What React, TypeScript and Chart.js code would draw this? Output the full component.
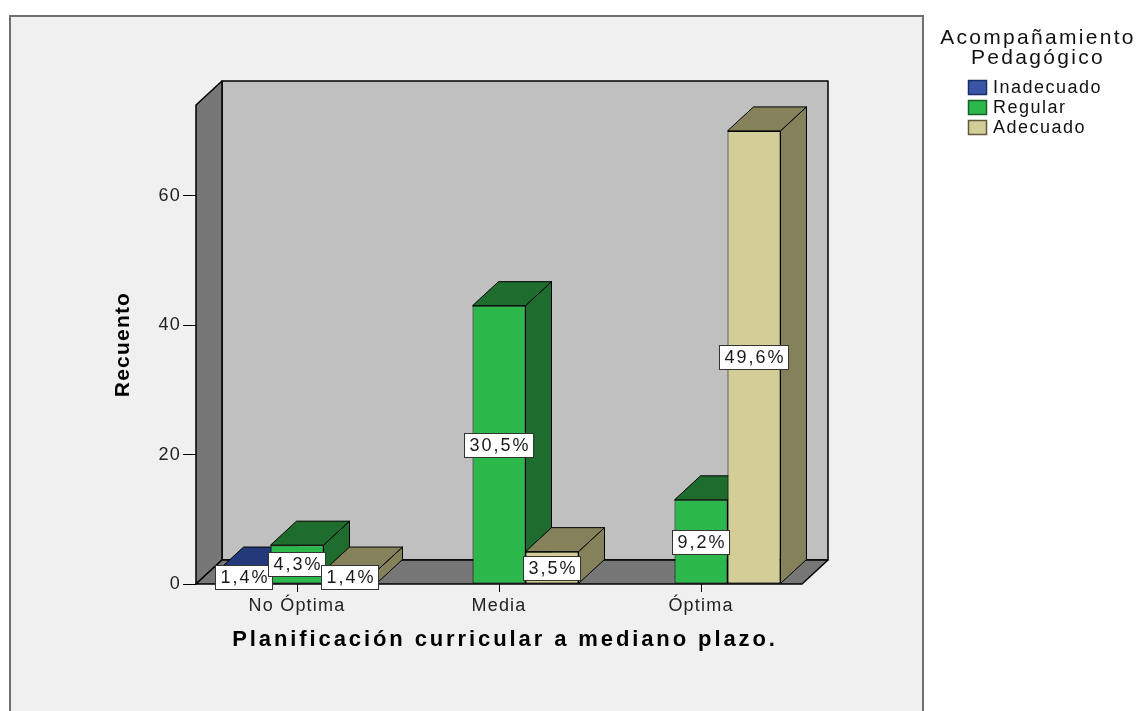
import React, { useEffect, useRef } from "react";
import { Chart, registerables } from "chart.js";

Chart.register(...registerables);

// ---------- data ----------
const categories = ["No Óptima", "Media", "Óptima"];
const seriesNames = ["Inadecuado", "Regular", "Adecuado"];
const inadecuado = [2, 0, 0];
const regular = [6, 43, 13];
const adecuado = [2, 5, 70];
const yTicks = [0, 20, 40, 60];
const yMax = 74;
const xTitle = "Planificación curricular a mediano plazo.";
const yTitle = "Recuento";
const legendTitle = ["Acompañamiento", "Pedagógico"];

// ---------- styles ----------
const frontColors = ["#3a55a5", "#2db84b", "#d3ce97"];
const darkColors = ["#24397a", "#1e6c2e", "#85825b"];
const legendBorders = ["#1c2c66", "#1a5f28", "#5e5b3e"];
const FONT = '"Liberation Sans", Arial, sans-serif';
const DX = 26;
const DY = 24;

const total = [...inadecuado, ...regular, ...adecuado].reduce((a, b) => a + b, 0);

function poly(ctx: CanvasRenderingContext2D, pts: number[][], fill: string) {
  ctx.beginPath();
  ctx.moveTo(pts[0][0], pts[0][1]);
  for (let i = 1; i < pts.length; i++) ctx.lineTo(pts[i][0], pts[i][1]);
  ctx.closePath();
  ctx.fillStyle = fill;
  ctx.fill();
  ctx.stroke();
}

const threeD = {
  id: "threeD",
  beforeDraw(chart: any) {
    const ctx: CanvasRenderingContext2D = chart.ctx;
    const { left, right, top, bottom } = chart.chartArea;
    ctx.save();
    ctx.fillStyle = "#ffffff";
    ctx.fillRect(0, 0, chart.width, chart.height);
    ctx.fillStyle = "#f0f0f0";
    ctx.fillRect(10, 16, 913, 720);
    ctx.strokeStyle = "#707070";
    ctx.lineWidth = 2;
    ctx.strokeRect(10, 16, 913, 720);
    ctx.strokeStyle = "#000";
    ctx.lineWidth = 1.5;
    ctx.lineJoin = "round";
    poly(ctx, [[left + DX, top - DY], [right + DX, top - DY], [right + DX, bottom - DY], [left + DX, bottom - DY]], "#c0c0c0");
    poly(ctx, [[left, top], [left + DX, top - DY], [left + DX, bottom - DY], [left, bottom]], "#777777");
    poly(ctx, [[left, bottom], [right, bottom], [right + DX, bottom - DY], [left + DX, bottom - DY]], "#777777");
    ctx.restore();
    (ctx as any).letterSpacing = "1.2px";
  },
  beforeDatasetsDraw(chart: any) {
    const ctx: CanvasRenderingContext2D = chart.ctx;
    const items: any[] = [];
    chart.data.datasets.forEach((ds: any, di: number) => {
      const meta = chart.getDatasetMeta(di);
      meta.data.forEach((el: any, i: number) => {
        if (ds.data[i] > 0) items.push({ el, di });
      });
    });
    items.sort((a, b) => a.el.x - b.el.x);
    ctx.save();
    ctx.strokeStyle = "#000";
    ctx.lineWidth = 1;
    ctx.lineJoin = "round";
    items.forEach(({ el, di }) => {
      const p = el.getProps(["x", "y", "base", "width"], true);
      const l = p.x - p.width / 2;
      const r = p.x + p.width / 2;
      const dark = darkColors[di];
      poly(ctx, [[r, p.y], [r + DX, p.y - DY], [r + DX, p.base - DY], [r, p.base]], dark);
      poly(ctx, [[l, p.y], [r, p.y], [r + DX, p.y - DY], [l + DX, p.y - DY]], dark);
    });
    ctx.restore();
  },
  afterDatasetsDraw(chart: any) {
    const ctx: CanvasRenderingContext2D = chart.ctx;
    ctx.save();
    (ctx as any).letterSpacing = "2px";
    ctx.font = `18px ${FONT}`;
    ctx.textAlign = "center";
    ctx.textBaseline = "middle";
    chart.data.datasets.forEach((ds: any, di: number) => {
      const meta = chart.getDatasetMeta(di);
      meta.data.forEach((el: any, i: number) => {
        const v = ds.data[i];
        if (!(v > 0)) return;
        const p = el.getProps(["x", "y", "base"], true);
        const txt = ((v / total) * 100).toFixed(1).replace(".", ",") + "%";
        const w = ctx.measureText(txt).width + 8;
        const h = 24;
        const cy = (p.y + p.base) / 2;
        const bx = Math.round(p.x - w / 2) + 0.5;
        const by = Math.round(cy - h / 2) + 0.5;
        ctx.fillStyle = "#ffffff";
        ctx.fillRect(bx, by, w, h);
        ctx.strokeStyle = "#333";
        ctx.lineWidth = 1;
        ctx.strokeRect(bx, by, w, h);
        ctx.fillStyle = "#1a1a1a";
        ctx.fillText(txt, p.x + 1, cy + 1);
      });
    });
    ctx.restore();
  },
  afterDraw(chart: any) {
    const ctx: CanvasRenderingContext2D = chart.ctx;
    const { left, right, top, bottom } = chart.chartArea;
    ctx.save();
    ctx.fillStyle = "#000";
    ctx.textAlign = "center";
    ctx.textBaseline = "middle";
    // x title
    (ctx as any).letterSpacing = "2.9px";
    ctx.font = `bold 22px ${FONT}`;
    ctx.fillText(xTitle, (left + right) / 2 + 6, 640);
    // y title
    (ctx as any).letterSpacing = "1.2px";
    ctx.font = `bold 21px ${FONT}`;
    ctx.save();
    ctx.translate(123, (top + bottom) / 2);
    ctx.rotate(-Math.PI / 2);
    ctx.fillText(yTitle, 0, 0);
    ctx.restore();
    // legend title
    (ctx as any).letterSpacing = "2.3px";
    ctx.font = `21px ${FONT}`;
    ctx.fillStyle = "#111";
    ctx.fillText(legendTitle[0], 1038, 38);
    ctx.fillText(legendTitle[1], 1038, 58);
    // legend items
    (ctx as any).letterSpacing = "1.5px";
    ctx.font = `18px ${FONT}`;
    ctx.textAlign = "left";
    chart.data.datasets.forEach((ds: any, i: number) => {
      const y = 80 + i * 20;
      ctx.fillStyle = ds.backgroundColor;
      ctx.fillRect(968, y, 19, 15);
      ctx.strokeStyle = legendBorders[i];
      ctx.lineWidth = 1.5;
      ctx.strokeRect(968.5, y + 0.5, 18, 14);
      ctx.fillStyle = "#111";
      ctx.fillText(ds.label, 993, y + 8);
    });
    ctx.restore();
  },
};

export default function App() {
  const ref = useRef<HTMLCanvasElement | null>(null);
  useEffect(() => {
    document.body.style.margin = "0";
    const canvas = ref.current;
    if (!canvas) return;
    const seriesData = [inadecuado, regular, adecuado];
    const chart = new Chart(canvas, {
      type: "bar",
      data: {
        labels: categories,
        datasets: seriesNames.map((name, i) => ({
          label: name,
          data: seriesData[i],
          backgroundColor: frontColors[i],
          borderColor: "#000",
          borderWidth: 1,
          borderSkipped: false,
          barPercentage: 1,
          categoryPercentage: 0.787,
        })) as any,
      },
      options: {
        responsive: false,
        animation: false,
        events: [],
        devicePixelRatio: 1,
        layout: { padding: { top: 105, left: 0, right: 336, bottom: 47 } },
        plugins: {
          legend: { display: false },
          tooltip: { enabled: false },
          title: { display: false },
        },
        scales: {
          x: {
            type: "category",
            offset: true,
            border: { display: false },
            grid: { drawOnChartArea: false, offset: false, drawTicks: true, tickLength: 8, color: "#000" },
            ticks: { font: { family: FONT, size: 18 }, color: "#222", padding: 3, maxRotation: 0, autoSkip: false },
            afterFit: (s: any) => {
              s.height = 80;
            },
          },
          y: {
            type: "linear",
            min: 0,
            max: yMax,
            border: { display: false },
            grid: { drawOnChartArea: false, drawTicks: true, tickLength: 13, color: "#000" },
            ticks: { font: { family: FONT, size: 18 }, color: "#222", padding: 2 },
            afterBuildTicks: (s: any) => {
              s.ticks = yTicks.map((v) => ({ value: v }));
            },
            afterFit: (s: any) => {
              s.width = 196;
            },
          },
        },
      } as any,
      plugins: [threeD as any],
    });
    return () => chart.destroy();
  }, []);
  return (
    <div style={{ position: "fixed", left: 0, top: 0, width: 1138, height: 711, background: "#fff" }}>
      <canvas ref={ref} width={1138} height={711} style={{ width: 1138, height: 711, display: "block" }} />
    </div>
  );
}
